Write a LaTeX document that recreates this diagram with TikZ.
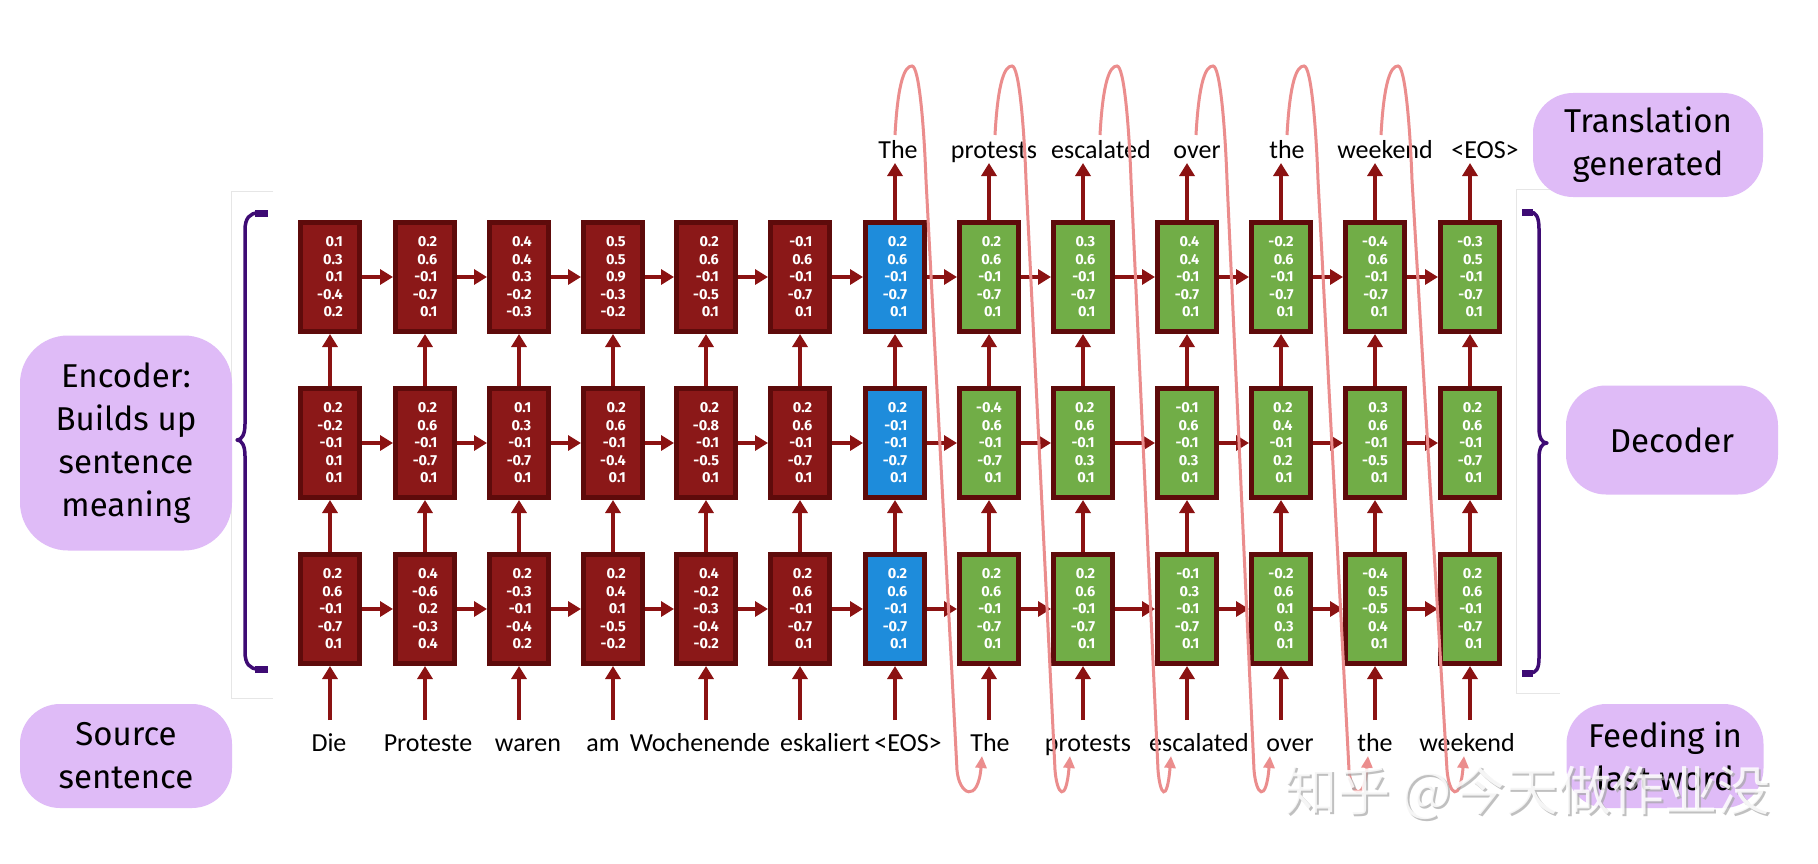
\documentclass[tikz,border=0pt]{standalone}
\usepackage{fontspec}
\setmainfont{Fira Sans}
\newfontfamily\wordfont{Carlito}
\newfontfamily\cjkfont{Noto Sans CJK SC}
\usetikzlibrary{arrows.meta,calc}
\definecolor{encfill}{HTML}{8B1818}
\definecolor{cellborder}{HTML}{5E0B0B}
\definecolor{blufill}{HTML}{1E8CDB}
\definecolor{grnfill}{HTML}{71AD47}
\definecolor{arrcol}{HTML}{8B1212}
\definecolor{lav}{HTML}{DFBBF7}
\definecolor{pinkline}{HTML}{EB8D8D}
\definecolor{bracecol}{HTML}{3E0B74}
\definecolor{framecol}{HTML}{E6E6E6}
\begin{document}
\begin{tikzpicture}[x=1pt,y=-1pt,
  cellbox/.style={draw=cellborder, line width=5pt, minimum width=59pt, minimum height=109pt,
    inner sep=0pt, text=white, align=right, font=\bfseries\fontsize{14.5}{17.5}\selectfont},
  enc/.style={cellbox, fill=encfill},
  eos/.style={cellbox, fill=blufill},
  dec/.style={cellbox, fill=grnfill},
  arr/.style={draw=arrcol, line width=4pt, -{Triangle[length=13pt,width=15pt]}},
  word/.style={font=\wordfont\fontsize{26}{30}\selectfont, inner sep=0pt, anchor=base},
  lbl/.style={fill=lav, rounded corners=48pt, align=center, inner sep=0pt,
    font=\fontsize{33}{43}\selectfont},
  pinkarr/.style={draw=pinkline, line width=3pt, -{Triangle[length=12pt,width=11pt]}},
  bracestyle/.style={draw=bracecol, line width=3.5pt, line cap=round, line join=round},
  hookstyle/.style={draw=bracecol, line width=7pt},
  framestyle/.style={draw=framecol, line width=1pt},
  wmfont/.style={font=\cjkfont\fontsize{53}{55}\selectfont}
]
\useasboundingbox (0,0) rectangle (1818,864);
\fill[white] (0,0) rectangle (1818,864);

% faint frames
\draw[framestyle] (273,191) -- (231,191) -- (231,698) -- (273,698);
\draw[framestyle] (1560,189) -- (1516,189) -- (1516,693) -- (1560,693);

% purple labels
\node[lbl, minimum width=212pt, minimum height=215pt] (encl) at (126,443) {Encoder:\\Builds up\\sentence\\meaning};
\node[lbl, minimum width=212pt, minimum height=104pt, rounded corners=40pt] (srcl) at (126,756) {Source\\sentence};
\node[lbl, minimum width=230pt, minimum height=104pt, rounded corners=40pt] (trl) at (1648,145) {Translation\\generated};
\node[lbl, minimum width=212pt, minimum height=109pt, rounded corners=40pt] (decl) at (1672,440) {Decoder};
\node[lbl, minimum width=197pt, minimum height=104pt, rounded corners=40pt] (feedl) at (1665,756) {Feeding in\\last word};

% braces
\draw[bracestyle] (258,213) .. controls (250,213) and (245,218) .. (245,230) -- (245,424)
  .. controls (245,434) and (242,440) .. (237,440) .. controls (242,440) and (245,446) .. (245,456)
  -- (245,652) .. controls (245,664) and (250,669) .. (258,669);
\draw[hookstyle] (255,213) -- (268,213);
\draw[hookstyle] (255,669) -- (268,669);
\draw[bracestyle] (1530,212) .. controls (1536,212) and (1539,217) .. (1539,229) -- (1539,428)
  .. controls (1539,438) and (1542,443) .. (1547,443) .. controls (1542,443) and (1539,448) .. (1539,458)
  -- (1539,658) .. controls (1539,669) and (1536,673) .. (1530,673);
\draw[hookstyle] (1522,212) -- (1533,212);
\draw[hookstyle] (1522,673) -- (1533,673);

% top row
\node[enc] (t1) at (330,277) {0.1\\0.3\\0.1\\-0.4\\0.2};
\node[enc] (t2) at (425,277) {0.2\\0.6\\-0.1\\-0.7\\0.1};
\node[enc] (t3) at (519,277) {0.4\\0.4\\0.3\\-0.2\\-0.3};
\node[enc] (t4) at (613,277) {0.5\\0.5\\0.9\\-0.3\\-0.2};
\node[enc] (t5) at (706,277) {0.2\\0.6\\-0.1\\-0.5\\0.1};
\node[enc] (t6) at (800,277) {-0.1\\0.6\\-0.1\\-0.7\\0.1};
\node[eos] (t7) at (895,277) {0.2\\0.6\\-0.1\\-0.7\\0.1};
\node[dec] (t8) at (989,277) {0.2\\0.6\\-0.1\\-0.7\\0.1};
\node[dec] (t9) at (1083,277) {0.3\\0.6\\-0.1\\-0.7\\0.1};
\node[dec] (t10) at (1187,277) {0.4\\0.4\\-0.1\\-0.7\\0.1};
\node[dec] (t11) at (1281,277) {-0.2\\0.6\\-0.1\\-0.7\\0.1};
\node[dec] (t12) at (1375,277) {-0.4\\0.6\\-0.1\\-0.7\\0.1};
\node[dec] (t13) at (1470,277) {-0.3\\0.5\\-0.1\\-0.7\\0.1};
% middle row
\node[enc] (m1) at (330,443) {0.2\\-0.2\\-0.1\\0.1\\0.1};
\node[enc] (m2) at (425,443) {0.2\\0.6\\-0.1\\-0.7\\0.1};
\node[enc] (m3) at (519,443) {0.1\\0.3\\-0.1\\-0.7\\0.1};
\node[enc] (m4) at (613,443) {0.2\\0.6\\-0.1\\-0.4\\0.1};
\node[enc] (m5) at (706,443) {0.2\\-0.8\\-0.1\\-0.5\\0.1};
\node[enc] (m6) at (800,443) {0.2\\0.6\\-0.1\\-0.7\\0.1};
\node[eos] (m7) at (895,443) {0.2\\-0.1\\-0.1\\-0.7\\0.1};
\node[dec] (m8) at (989,443) {-0.4\\0.6\\-0.1\\-0.7\\0.1};
\node[dec] (m9) at (1083,443) {0.2\\0.6\\-0.1\\0.3\\0.1};
\node[dec] (m10) at (1187,443) {-0.1\\0.6\\-0.1\\0.3\\0.1};
\node[dec] (m11) at (1281,443) {0.2\\0.4\\-0.1\\0.2\\0.1};
\node[dec] (m12) at (1375,443) {0.3\\0.6\\-0.1\\-0.5\\0.1};
\node[dec] (m13) at (1470,443) {0.2\\0.6\\-0.1\\-0.7\\0.1};
% bottom row
\node[enc] (b1) at (330,609) {0.2\\0.6\\-0.1\\-0.7\\0.1};
\node[enc] (b2) at (425,609) {0.4\\-0.6\\0.2\\-0.3\\0.4};
\node[enc] (b3) at (519,609) {0.2\\-0.3\\-0.1\\-0.4\\0.2};
\node[enc] (b4) at (613,609) {0.2\\0.4\\0.1\\-0.5\\-0.2};
\node[enc] (b5) at (706,609) {0.4\\-0.2\\-0.3\\-0.4\\-0.2};
\node[enc] (b6) at (800,609) {0.2\\0.6\\-0.1\\-0.7\\0.1};
\node[eos] (b7) at (895,609) {0.2\\0.6\\-0.1\\-0.7\\0.1};
\node[dec] (b8) at (989,609) {0.2\\0.6\\-0.1\\-0.7\\0.1};
\node[dec] (b9) at (1083,609) {0.2\\0.6\\-0.1\\-0.7\\0.1};
\node[dec] (b10) at (1187,609) {-0.1\\0.3\\-0.1\\-0.7\\0.1};
\node[dec] (b11) at (1281,609) {-0.2\\0.6\\0.1\\0.3\\0.1};
\node[dec] (b12) at (1375,609) {-0.4\\0.5\\-0.5\\0.4\\0.1};
\node[dec] (b13) at (1470,609) {0.2\\0.6\\-0.1\\-0.7\\0.1};

% horizontal and vertical arrows
\foreach \i in {1,...,12} {
  \pgfmathtruncatemacro\j{\i+1}
  \draw[arr] (t\i.east) -- (t\j.west);
  \draw[arr] (m\i.east) -- (m\j.west);
  \draw[arr] (b\i.east) -- (b\j.west);
}
\foreach \i in {1,...,13} {
  \draw[arr] (b\i.north) -- (m\i.south);
  \draw[arr] (m\i.north) -- (t\i.south);
}

% input arrows and words
\foreach \i/\x in {1/330,2/425,3/519,4/613,5/706,6/800,7/895,8/989,9/1083,10/1187,11/1281,12/1375,13/1470} {
  \coordinate (bb\i) at (\x,720);
  \draw[arr] (bb\i) -- (b\i.south);
}
\foreach \i/\x in {7/895,8/989,9/1083,10/1187,11/1281,12/1375,13/1470} {
  \coordinate (tt\i) at (\x,163);
  \draw[arr] (t\i.north) -- (tt\i);
}
\node[word] (bw1) at (329,751) {Die};
\node[word] (bw2) at (428,751) {Proteste};
\node[word] (bw3) at (528,751) {waren};
\node[word] (bw4) at (603,751) {am};
\node[word] (bw5) at (700,751) {Wochenende};
\node[word] (bw6) at (825,751) {eskaliert};
\node[word] (bw7) at (908,751) {<EOS>};
\node[word] (bw8) at (990,751) {The};
\node[word] (bw9) at (1088,751) {protests};
\node[word] (bw10) at (1199,751) {escalated};
\node[word] (bw11) at (1290,751) {over};
\node[word] (bw12) at (1375,751) {the};
\node[word] (bw13) at (1467,751) {weekend};

\node[word] (tw7) at (898,158) {The};
\node[word] (tw8) at (994,158) {protests};
\node[word] (tw9) at (1101,158) {escalated};
\node[word] (tw10) at (1197,158) {over};
\node[word] (tw11) at (1287,158) {the};
\node[word] (tw12) at (1385,158) {weekend};
\node[word] (tw13) at (1485,158) {<EOS>};

% feedback loops
\foreach \k/\s/\e/\d in {1/895/982/62, 2/995/1070/60, 3/1100/1171/58, 4/1196/1270/58, 5/1287/1368/62, 6/1381/1464/66} {
  \coordinate (ps\k) at (\s,135);
  \coordinate (pe\k) at (\e,756);
  \draw[pinkarr] (ps\k) .. controls ($(ps\k)+(3,-55)$) and ($(ps\k)+(10,-69)$) .. ($(ps\k)+(17,-69)$)
    .. controls ($(ps\k)+(24,-69)$) and ($(ps\k)+(29,-10)$) .. ($(ps\k)+(31,45)$)
    -- ($(ps\k)+(\d,635)$)
    .. controls ($(ps\k)+(\d+2,660)$) and ($(pe\k)+(-4,48)$) .. (pe\k);
}

% watermark
\node[wmfont, text=gray!70, opacity=0.7] (wms) at (1529,795) {知乎 @今天做作业没};
\node[wmfont, text=white, opacity=0.85] (wm) at (1527,793) {知乎 @今天做作业没};
\end{tikzpicture}
\end{document}
